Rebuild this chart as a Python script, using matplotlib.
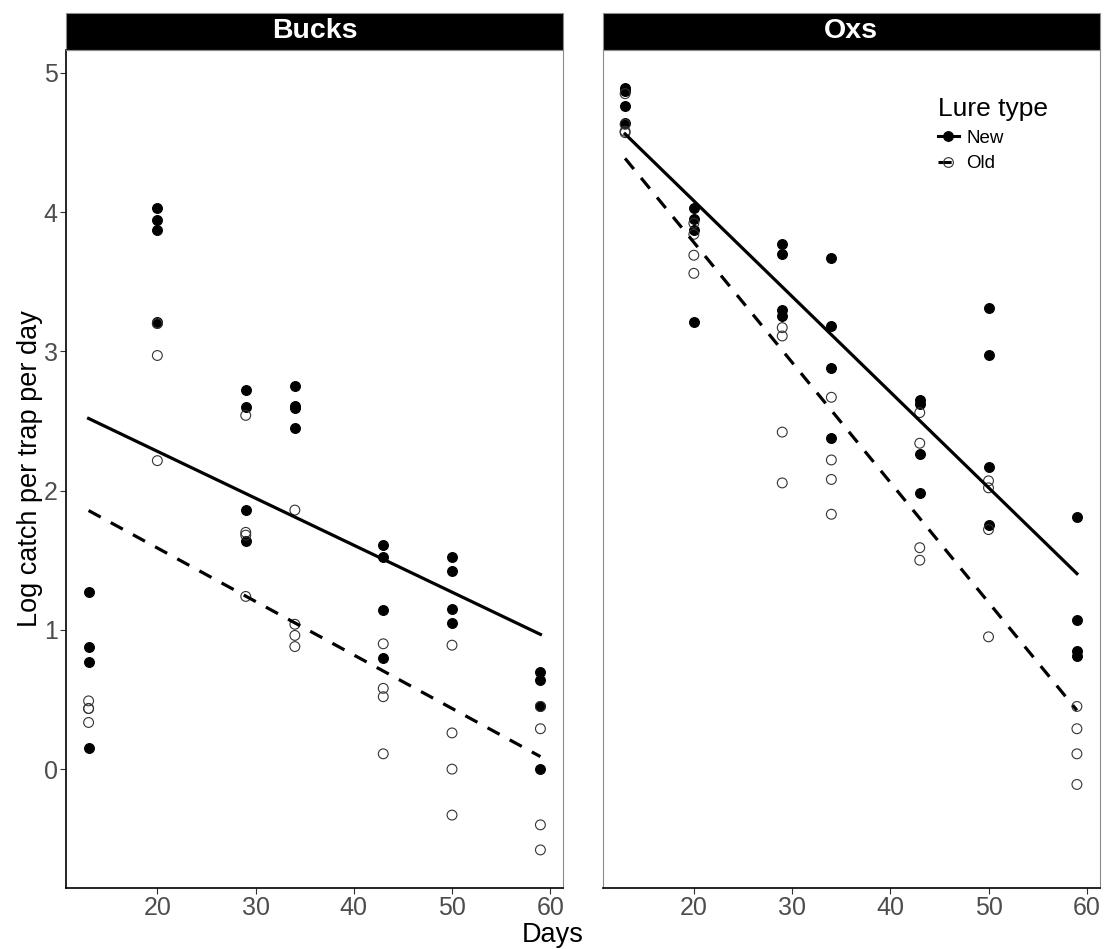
import numpy as np
import matplotlib
matplotlib.use('Agg')
import matplotlib.pyplot as plt
from matplotlib.lines import Line2D
from matplotlib.patches import Rectangle

plt.rcParams['font.family'] = ['Liberation Sans', 'DejaVu Sans']

days = [13, 20, 29, 34, 43, 50, 59]
sites = ['Bucks', 'Oxs']
lures = ['New', 'Old']

# log catch per trap per day, one list per sampling day
bucks_new = [[1.27, 0.875, 0.77, 0.15], [4.03, 3.94, 3.87, 3.21],
             [2.72, 2.60, 1.86, 1.64], [2.75, 2.61, 2.59, 2.45],
             [1.61, 1.52, 1.14, 0.80], [1.52, 1.42, 1.15, 1.05],
             [0.70, 0.64, 0.45, 0.0]]
bucks_old = [[0.49, 0.435, 0.435, 0.335], [3.20, 3.20, 2.97, 2.215],
             [2.54, 1.70, 1.68, 1.24], [1.86, 1.04, 0.96, 0.88],
             [0.90, 0.58, 0.52, 0.11], [0.89, 0.26, 0.0, -0.33],
             [0.45, 0.29, -0.40, -0.58]]
oxs_new = [[4.89, 4.87, 4.76, 4.64], [4.03, 3.95, 3.87, 3.21],
           [3.77, 3.70, 3.30, 3.25], [3.67, 3.18, 2.88, 2.38],
           [2.65, 2.62, 2.26, 1.98], [3.31, 2.97, 2.17, 1.75],
           [1.81, 1.07, 0.85, 0.81]]
oxs_old = [[4.85, 4.63, 4.58, 4.57], [3.92, 3.84, 3.69, 3.56],
           [3.17, 3.11, 2.42, 2.055], [2.67, 2.22, 2.08, 1.83],
           [2.56, 2.34, 1.59, 1.50], [2.07, 2.02, 1.72, 0.95],
           [0.45, 0.29, 0.11, -0.11]]

catch = {('Bucks', 'New'): bucks_new, ('Bucks', 'Old'): bucks_old,
         ('Oxs', 'New'): oxs_new, ('Oxs', 'Old'): oxs_old}

W, H = 1106, 949
fig = plt.figure(figsize=(W / 100, H / 100), dpi=100)
ax_bottom = 1 - 888 / H
ax_height = (888 - 50) / H
axes = [fig.add_axes([66 / W, ax_bottom, 497 / W, ax_height]),
        fig.add_axes([602.5 / W, ax_bottom, 497 / W, ax_height])]

styles = {'New': dict(face='black', edge='black', ls='-'),
          'Old': dict(face='none', edge='#333333', ls=(0, (4.3, 3.6)))}

all_vals = np.concatenate([np.concatenate(v) for v in catch.values()])
ylo, yhi = all_vals.min(), all_vals.max()
ypad = 0.05 * (yhi - ylo)
xpad = 0.05 * (max(days) - min(days))

for i, (ax, site) in enumerate(zip(axes, sites)):
    for lure in lures:
        vals = catch[(site, lure)]
        x = np.repeat(days, [len(v) for v in vals])
        y = np.concatenate(vals)
        st = styles[lure]
        ax.scatter(x, y, s=50, facecolors=st['face'], edgecolors=st['edge'],
                   linewidths=0.8, zorder=2)
        # linear fit per lure type, like geom_smooth(method = "lm")
        slope, icept = np.polyfit(x, y, 1)
        xs = np.array([min(days), max(days)])
        ax.plot(xs, icept + slope * xs, color='black', lw=2.3, ls=st['ls'], zorder=3)

    ax.set_xlim(min(days) - xpad, max(days) + xpad)
    ax.set_ylim(ylo - ypad, yhi + ypad)
    ax.set_xticks([20, 30, 40, 50, 60])
    ax.set_yticks([0, 1, 2, 3, 4, 5])
    ax.tick_params(labelsize=18, labelcolor='#4d4d4d', color='#333333',
                   length=4, width=0.8, pad=2)
    if i == 1:
        ax.tick_params(axis='y', left=False, labelleft=False)

    for s in ['top', 'right']:
        ax.spines[s].set_color('#8c8c8c')
        ax.spines[s].set_linewidth(0.8)
    ax.spines['bottom'].set_color('black')
    ax.spines['bottom'].set_linewidth(1.2)
    if i == 0:
        ax.spines['left'].set_color('black')
        ax.spines['left'].set_linewidth(1.2)
    else:
        ax.spines['left'].set_color('#8c8c8c')
        ax.spines['left'].set_linewidth(0.8)

    # facet strip
    strip_h = 37 / 838
    ax.add_patch(Rectangle((0, 1), 1, strip_h, transform=ax.transAxes,
                           facecolor='black', edgecolor='#8c8c8c', lw=0.8, clip_on=False))
    ax.text(0.5, 1 + strip_h / 2, site, transform=ax.transAxes, ha='center', va='center',
            color='white', fontsize=20.5, fontweight='bold')

fig.text(30 / W, ax_bottom + ax_height / 2, 'Log catch per trap per day', rotation=90,
         ha='center', va='center', fontsize=19.5)
fig.text(0.5, 1 - 935 / H, 'Days', ha='center', va='center', fontsize=19.5)

handles = [Line2D([], [], color='black', lw=2.2, ls=styles[l]['ls'], marker='o',
                  markersize=7, markerfacecolor=styles[l]['face'],
                  markeredgecolor=styles[l]['edge'], markeredgewidth=0.8)
           for l in lures]
leg = axes[1].legend(handles, lures, title='Lure type', frameon=False, fontsize=13.5,
                     title_fontsize=19, handlelength=1.1, handletextpad=0.4,
                     labelspacing=0.45, alignment='left', loc='upper left',
                     bbox_to_anchor=(938 / W, 1 - 97 / H), bbox_transform=fig.transFigure,
                     borderpad=0, borderaxespad=0)

fig.savefig('out.png', dpi=100)
